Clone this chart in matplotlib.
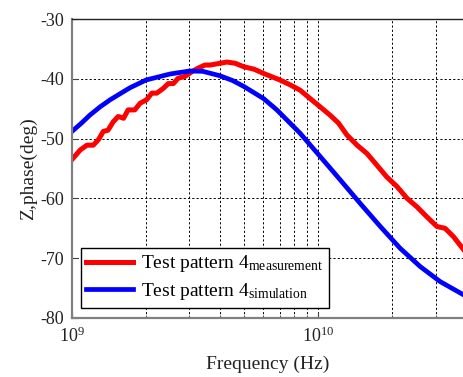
import numpy as np
import matplotlib
matplotlib.use("Agg")
import matplotlib.pyplot as plt

plt.rcParams['font.family'] = 'Liberation Serif'
plt.rcParams['mathtext.fontset'] = 'custom'
plt.rcParams['mathtext.rm'] = 'Liberation Serif'
plt.rcParams['mathtext.it'] = 'Liberation Serif:italic'
plt.rcParams['axes.unicode_minus'] = False

# Measured phase (frequency in GHz, phase in deg)
f_meas = [1.0, 1.08, 1.15, 1.22, 1.28, 1.34, 1.40, 1.47, 1.54, 1.62, 1.69, 1.80,
          1.89, 2.01, 2.11, 2.21, 2.35, 2.46, 2.58, 2.70, 2.88, 3.07, 3.26, 3.47,
          3.64, 4.0, 4.26, 4.6, 5.0, 5.5, 6.0, 7.0, 7.69, 8.45, 9.28, 10.2,
          11.2, 12.1, 13.1, 14.4, 15.8, 17.3, 19.0, 20.9, 23.0, 25.2, 27.7, 30.4,
          32.8, 35.5, 38.9]
p_meas = [-53.5, -51.9, -51.1, -51.1, -50.2, -48.8, -48.6, -47.2, -46.3, -46.6,
          -45.2, -45.2, -44.1, -43.5, -42.4, -42.4, -41.6, -40.8, -40.8, -39.9,
          -39.6, -38.8, -38.2, -37.7, -37.7, -37.4, -37.2, -37.4, -38.0, -38.4,
          -39.1, -40.2, -41.0, -41.9, -43.3, -44.7, -46.1, -47.4, -49.4, -51.1,
          -52.5, -54.4, -56.4, -58.0, -60.0, -61.4, -63.1, -64.7, -65.0, -66.4,
          -68.5]

# Simulated phase
f_sim = [1.0, 1.1, 1.18, 1.3, 1.43, 1.72, 2.0, 2.5, 3.0, 3.4, 4.0, 4.5, 5.0,
         6.0, 6.8, 8.45, 10.2, 12.3, 14.8, 17.9, 21.5, 26.0, 31.3, 38.9]
p_sim = [-48.8, -47.3, -46.1, -44.7, -43.5, -41.5, -40.2, -39.2, -38.7, -38.75,
         -39.5, -40.3, -41.3, -43.3, -45.2, -49.1, -53.0, -56.9, -60.8, -64.7,
         -68.3, -71.4, -73.9, -76.1]

fig = plt.figure(figsize=(4.63, 3.77), dpi=100)
ax = fig.add_axes([0.1555, 0.1565, 0.8445, 0.7931])

f_meas = np.array(f_meas) * 1e9
f_sim = np.array(f_sim) * 1e9

ax.plot(f_meas, p_meas, color='#ff0000', lw=3.6, solid_joinstyle='round',
        label='Test pattern 4$_{\\mathrm{measurement}}$')
ax.plot(f_sim, p_sim, color='#0000ff', lw=3.4, solid_joinstyle='round',
        label='Test pattern 4$_{\\mathrm{simulation}}$')

ax.set_xscale('log')
ax.set_xlim(1e9, 3.88e10)
ax.set_ylim(-80, -30)
ax.set_yticks(np.arange(-80, -29, 10))

ax.grid(True, which='major', color='k', linestyle=(0, (2.2, 2.2)), lw=0.7)
ax.grid(True, which='minor', axis='x', color='k', linestyle=(0, (2.2, 2.2)), lw=0.7)

ax.tick_params(which='both', direction='in', labelsize=13, colors='#444444',
               labelcolor='#222222', pad=6)
ax.tick_params(which='major', length=4)
ax.tick_params(which='minor', length=2)

for s in ['left', 'bottom']:
    ax.spines[s].set_color('#808080')
    ax.spines[s].set_linewidth(1.6)
ax.spines['top'].set_color('#222222')
ax.spines['top'].set_linewidth(1.0)
ax.spines['right'].set_visible(False)

ax.set_xlabel('Frequency (Hz)', fontsize=14, color='#222222', labelpad=7)
ax.set_ylabel('Z,phase(deg)', fontsize=14, color='#222222', labelpad=2)

leg = ax.legend(loc='lower left', bbox_to_anchor=(0.022, 0.033), borderaxespad=0,
                fontsize=14, fancybox=False, edgecolor='k', framealpha=1,
                handlelength=2.4, handletextpad=0.4, labelspacing=0.35,
                borderpad=0.3)
leg.get_frame().set_linewidth(1.0)

fig.savefig('out.png', dpi=100)
